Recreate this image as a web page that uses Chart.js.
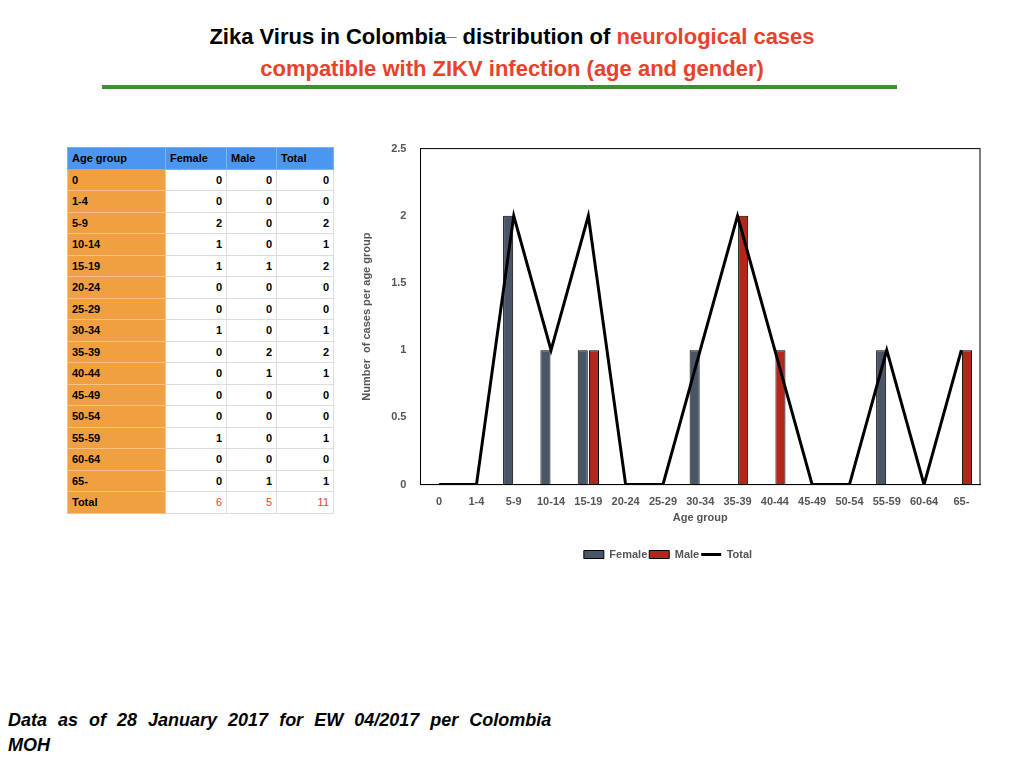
<!DOCTYPE html>
<html>
<head>
<meta charset="utf-8">
<script src="https://cdn.jsdelivr.net/npm/chart.js@4"></script>
<style>
  body { margin: 0; width: 1024px; height: 768px; background: #fff; font-family: "Liberation Sans", Arial, sans-serif; position: relative; overflow: hidden; }
  #title { position: absolute; top: 14px; left: 0; width: 1024px; text-align: center; font-weight: bold; font-size: 22px; line-height: 32px; }
  #title .red { color: #e8412c; }
  #rule { position: absolute; top: 85px; left: 102px; width: 795px; height: 4px; background: #3d8f2f; }
  table { position: absolute; left: 67px; top: 147px; border-collapse: collapse; font-size: 11px; font-weight: bold; table-layout: fixed; }
  td { height: 21.5px; border: 1px solid #ddd; padding: 0 4px; text-align: right; box-sizing: border-box; }
  td.ag { background: #f0a040; text-align: left; width: 98px; border-color: #f6c38a; }
  tr.head td { background: #4b96ee; text-align: left; border-color: #7fb3f2; }
  td.f { width: 61px; } td.m { width: 50px; } td.t { width: 57px; }
  tr.tot td.n { color: #e8412c; font-weight: normal; }
  #wrap { position: absolute; left: 356px; top: 128px; width: 632px; height: 442px; }
  #foot { position: absolute; left: 8px; top: 708px; font-size: 18px; font-weight: bold; font-style: italic; line-height: 25px; word-spacing: 6px; }
</style>
</head>
<body>
<div id="title">Zika Virus in Colombia<sup>_</sup>  distribution of <span class="red">neurological cases</span><br><span class="red">compatible with ZIKV infection (age and gender)</span></div>
<div id="rule"></div>
<table id="tbl"></table>
<div id="wrap"><canvas id="myChart"></canvas></div>
<div id="foot">Data as of 28 January 2017 for EW 04/2017 per Colombia<br>MOH</div>
<script>
const ageGroups = ['0', '1-4', '5-9', '10-14', '15-19', '20-24', '25-29', '30-34', '35-39', '40-44', '45-49', '50-54', '55-59', '60-64', '65-']
const female = [0, 0, 2, 1, 1, 0, 0, 1, 0, 0, 0, 0, 1, 0, 0]
const male = [0, 0, 0, 0, 1, 0, 0, 0, 2, 1, 0, 0, 0, 0, 1]
const total = [0, 0, 2, 1, 2, 0, 0, 1, 2, 1, 0, 0, 1, 0, 1]

// tabla
const tbl = document.getElementById( 'tbl' )
let html = '<tr class="head"><td class="ag">Age group</td><td class="f">Female</td><td class="m">Male</td><td class="t">Total</td></tr>'
ageGroups.forEach( ( g, i ) => {
  html += `<tr><td class="ag">${g}</td><td class="n f">${female[i]}</td><td class="n m">${male[i]}</td><td class="n t">${total[i]}</td></tr>`
} )
const sum = ( a ) => a.reduce( ( s, v ) => s + v, 0 )
html += `<tr class="tot"><td class="ag">Total</td><td class="n f">${sum( female )}</td><td class="n m">${sum( male )}</td><td class="n t">${sum( total )}</td></tr>`
tbl.innerHTML = html

Chart.defaults.font.family = '"Liberation Sans", Arial, sans-serif'
Chart.defaults.font.size = 11
Chart.defaults.font.weight = 'bold'
Chart.defaults.color = '#555'

new Chart( document.getElementById( 'myChart' ), {
  type: 'bar',
  data: {
    labels: ageGroups,
    datasets: [
      { label: 'Female', data: female, backgroundColor: '#4b5568', borderColor: '#000', borderWidth: 1, barPercentage: 0.9, categoryPercentage: 0.6, order: 2, pointStyle: 'rect' },
      { label: 'Male', data: male, backgroundColor: '#b3261a', borderColor: '#000', borderWidth: 1, barPercentage: 0.9, categoryPercentage: 0.6, order: 2, pointStyle: 'rect' },
      { label: 'Total', type: 'line', data: total, borderColor: '#000', backgroundColor: '#000', borderWidth: 3, pointRadius: 0, tension: 0, order: 1, pointStyle: 'line' }
    ]
  },
  options: {
    responsive: true,
    maintainAspectRatio: false,
    animation: false,
    layout: { padding: { right: 8 } },
    plugins: {
      legend: {
        position: 'bottom',
        labels: { usePointStyle: true, pointStyleWidth: 20, boxHeight: 8, padding: 2, sort: ( a, b ) => a.datasetIndex - b.datasetIndex }
      }
    },
    scales: {
      x: {
        grid: { display: false },
        border: { color: '#000' },
        title: { display: true, text: 'Age group', padding: { top: 0, bottom: 22 } }
      },
      y: {
        min: 0, max: 2.5,
        ticks: { stepSize: 0.5, padding: 14, callback: ( v ) => String( v ) },
        grid: { display: false, drawTicks: false },
        border: { color: '#000' },
        title: { display: true, text: 'Number  of cases per age group' }
      }
    }
  },
  plugins: [{
    id: 'frame',
    afterDraw( chart ) {
      const { ctx, chartArea: a } = chart
      ctx.save()
      ctx.strokeStyle = '#000'
      ctx.lineWidth = 1
      ctx.strokeRect( a.left, a.top, a.right - a.left, a.bottom - a.top )
      ctx.restore()
    }
  }]
} )
</script>
</body>
</html>
